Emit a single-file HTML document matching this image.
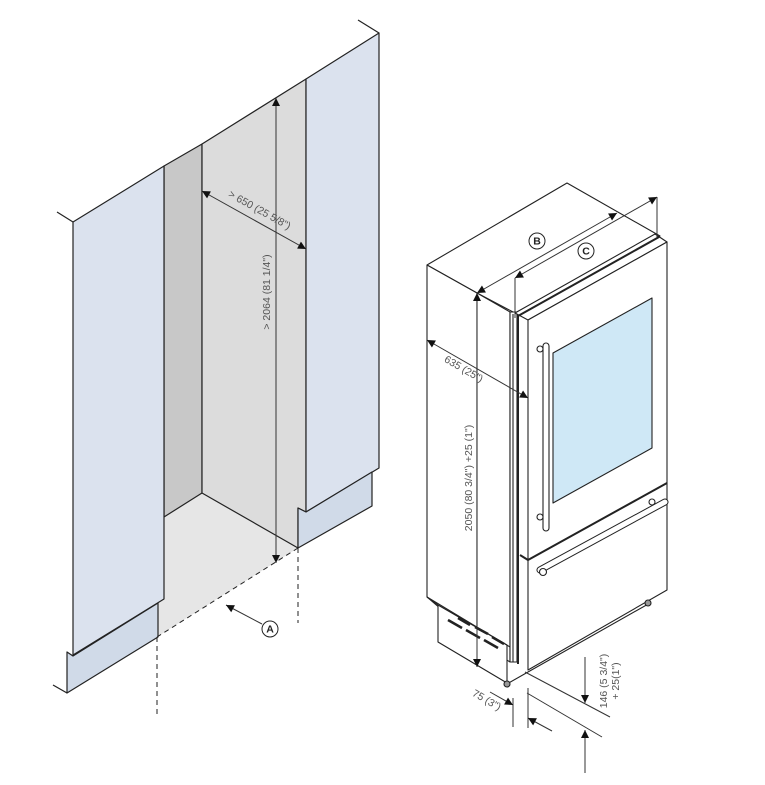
<!DOCTYPE html>
<html><head><meta charset="utf-8"><style>
html,body{margin:0;padding:0;background:#fff;}
svg{display:block;}
text{font-family:"Liberation Sans Narrow","Liberation Sans",sans-serif;fill:#555;font-size:10.5px;}
</style></head><body>
<svg width="765" height="785" viewBox="0 0 765 785" xmlns="http://www.w3.org/2000/svg">
<defs>
<marker id="ah" viewBox="0 0 10 10" refX="10" refY="5" markerWidth="12" markerHeight="8" orient="auto-start-reverse" markerUnits="userSpaceOnUse">
<path d="M0,0 L10,5 L0,10 z" fill="#111"/>
</marker>
</defs>
<g stroke="#222" stroke-width="1.2" stroke-linejoin="round">
<polygon points="158,603 164,599 164,517 202,493 298,548 157,637" fill="#e6e6e6" stroke="none"/>
<polygon points="164,166 202,144 202,493 164,517" fill="#c8c8c8"/>
<polygon points="202,144 306,79 306,512 298,508 298,548 202,493" fill="#dcdcdc"/>
<polygon points="73,222 164,166 164,599 73,655" fill="#dbe2ee"/>
<polygon points="306,79 379,33 379,468 306,512" fill="#dbe2ee"/>
<polygon points="67,652 73,656 158,603 158,637 67,693" fill="#d0dae8"/>
<polygon points="298,508 306,512 372,472 372,506 298,548" fill="#d0dae8"/>
<line x1="57" y1="212" x2="73" y2="222"/>
<line x1="358" y1="20" x2="379" y2="33"/>
<line x1="53" y1="685" x2="67" y2="693"/>
</g>
<g stroke="#222" stroke-width="1" stroke-dasharray="5,4" fill="none">
<line x1="298" y1="548" x2="157" y2="637"/>
<line x1="157" y1="637" x2="157" y2="715"/>
<line x1="298" y1="548" x2="298" y2="623"/>
</g>
<g stroke="#333" stroke-width="1" fill="none">
<line x1="276" y1="98" x2="276" y2="563" marker-start="url(#ah)" marker-end="url(#ah)"/>
<line x1="202" y1="191" x2="306" y2="249" marker-start="url(#ah)" marker-end="url(#ah)"/>
<line x1="262" y1="624" x2="226" y2="605" marker-end="url(#ah)"/>
<circle cx="270" cy="629" r="8" fill="#fff" stroke="#222"/>
</g>
<text x="270" y="629" font-size="9" text-anchor="middle" dy="3.5" style="fill:#222;font-weight:bold">A</text>
<text transform="translate(270,292) rotate(-90)" text-anchor="middle">&gt; 2064 (81 1/4")</text>
<text transform="translate(258,213) rotate(29)" text-anchor="middle">&gt; 650 (25 5/8")</text>

<g stroke="#222" stroke-width="1.1" fill="#fff" stroke-linejoin="round">
<polygon points="427,265 567,183 660,236 515,313 477,293"/>
<polygon points="427,265 477,293 477,640 427,597"/>
<polygon points="477,293 510,312 510,662 477,641"/>
<polygon points="438,605 507,645 507,683 438,642"/>
<line x1="427" y1="597" x2="510" y2="647"/>
<line x1="427" y1="597" x2="438" y2="605"/>
<polygon points="510,312 517,312 517,662 510,662"/>
<line x1="513" y1="314" x2="513" y2="662"/>
<line x1="518" y1="314" x2="518" y2="664" stroke-width="2"/>
<polygon points="515,313 655,234 667,242 528,320"/>
<line x1="518" y1="316" x2="659" y2="237" stroke-width="2"/>
<polygon points="528,320 667,242 667,483 528,560"/>
<polygon points="528,560 667,483 667,590 528,670"/>
<line x1="520" y1="555" x2="528" y2="560" stroke-width="2"/>
<line x1="528" y1="560" x2="667" y2="483" stroke-width="2"/>
<polygon points="553,353 652,298 652,448 553,503" fill="#cfe8f6"/>
<rect x="543" y="343" width="6" height="188" rx="3"/>
<circle cx="540" cy="349" r="3"/>
<circle cx="540" cy="517" r="3"/>
<line x1="540" y1="570" x2="665" y2="502" stroke-width="7" stroke-linecap="round"/>
<line x1="540" y1="570" x2="665" y2="502" stroke-width="5" stroke="#fff" stroke-linecap="round"/>
<circle cx="543" cy="572" r="3.5"/>
<circle cx="652" cy="502" r="3"/>
<line x1="507" y1="684" x2="528" y2="672"/>
<line x1="528" y1="672" x2="650" y2="603"/>
<circle cx="507" cy="684" r="3" fill="#999"/>
<circle cx="648" cy="603" r="3" fill="#999"/>
</g>
<g stroke="#222" stroke-width="2.5">
<line x1="448" y1="620" x2="462" y2="628"/><line x1="458" y1="618" x2="470" y2="625"/>
<line x1="466" y1="630" x2="480" y2="638"/><line x1="475" y1="627" x2="488" y2="634"/>
<line x1="484" y1="640" x2="498" y2="648"/><line x1="492" y1="637" x2="504" y2="644"/>
</g>
<g stroke="#333" stroke-width="1" fill="none">
<line x1="477" y1="293" x2="477" y2="667" marker-start="url(#ah)" marker-end="url(#ah)"/>
<line x1="427" y1="340" x2="528" y2="398" marker-start="url(#ah)" marker-end="url(#ah)"/>
<line x1="477" y1="293" x2="617" y2="213" marker-start="url(#ah)" marker-end="url(#ah)"/>
<line x1="515" y1="278" x2="657" y2="197" marker-start="url(#ah)" marker-end="url(#ah)"/>
<line x1="515" y1="278" x2="515" y2="318"/>
<line x1="657" y1="197" x2="657" y2="237"/>
<line x1="513" y1="698" x2="513" y2="727"/>
<line x1="528" y1="688" x2="528" y2="728"/>
<line x1="527" y1="693" x2="602" y2="737"/>
<line x1="525" y1="672" x2="610" y2="717"/>
<line x1="490" y1="692" x2="513" y2="705" marker-end="url(#ah)"/>
<line x1="552" y1="731" x2="528" y2="718" marker-end="url(#ah)"/>
<line x1="585" y1="657" x2="585" y2="703" marker-end="url(#ah)"/>
<line x1="585" y1="773" x2="585" y2="730" marker-end="url(#ah)"/>
<circle cx="537" cy="241" r="8" fill="#fff" stroke="#222"/>
<circle cx="586" cy="251" r="8" fill="#fff" stroke="#222"/>
</g>
<text x="537" y="241" font-size="9" text-anchor="middle" dy="3.5" style="fill:#222;font-weight:bold">B</text>
<text x="586" y="251" font-size="9" text-anchor="middle" dy="3.5" style="fill:#222;font-weight:bold">C</text>
<text transform="translate(472,478) rotate(-90)" text-anchor="middle">2050 (80 3/4") +25 (1")</text>
<text transform="translate(462,372) rotate(30)" text-anchor="middle">635 (25")</text>
<text transform="translate(485,703) rotate(30)" text-anchor="middle">75 (3")</text>
<text transform="translate(607,681) rotate(-90)" text-anchor="middle">146 (5 3/4")</text>
<text transform="translate(619,681) rotate(-90)" text-anchor="middle">+ 25(1")</text>
</svg>
</body></html>
